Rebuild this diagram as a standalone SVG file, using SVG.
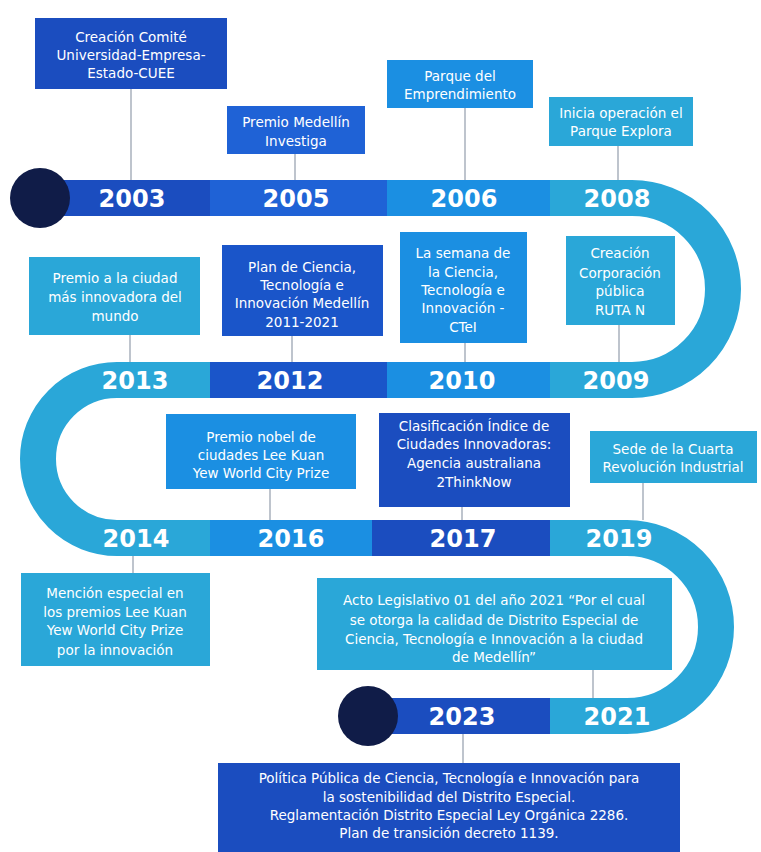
<svg xmlns="http://www.w3.org/2000/svg" width="761" height="852" viewBox="0 0 761 852">
<style>
.bx text{font-family:"DejaVu Sans","Liberation Sans",sans-serif;font-size:13.5px;fill:#ffffff;text-anchor:middle}
.yr{font-family:"DejaVu Sans","Liberation Sans",sans-serif;font-size:24px;font-weight:bold;fill:#ffffff;text-anchor:middle}
.dk{fill:#1b4dbf}
.bl{fill:#1f62d6}
.md{fill:#1b8fe2}
.cy{fill:#2aa7d8}
.cn line{stroke:#a9b1bd;stroke-width:1.5}
</style>
<rect width="761" height="852" fill="#ffffff"/>
<g id="track">
<path d="M40 198 H632 A91 91 0 0 1 632 380 H117 A79 79 0 0 0 117 538 H627 A89 89 0 0 1 627 716 H370" fill="none" stroke="#2aa7d8" stroke-width="36"/>
<rect class="dk" x="60" y="180" width="150" height="36"/>
<rect class="bl" x="210" y="180" width="177" height="36"/>
<rect class="md" x="387" y="180" width="163" height="36"/>
<rect fill="#1a55c9" x="210" y="362" width="177" height="36"/>
<rect class="md" x="387" y="362" width="163" height="36"/>
<rect class="md" x="210" y="520" width="162" height="36"/>
<rect class="dk" x="372" y="520" width="178" height="36"/>
<rect class="dk" x="380" y="698" width="170" height="36"/>
<circle cx="40" cy="198" r="30" fill="#101c48"/>
<circle cx="368" cy="716" r="30" fill="#101c48"/>
<text class="yr" x="132" y="207">2003</text>
<text class="yr" x="296" y="207">2005</text>
<text class="yr" x="464" y="207">2006</text>
<text class="yr" x="617" y="207">2008</text>
<text class="yr" x="135" y="389">2013</text>
<text class="yr" x="290" y="389">2012</text>
<text class="yr" x="462" y="389">2010</text>
<text class="yr" x="616" y="389">2009</text>
<text class="yr" x="136" y="547">2014</text>
<text class="yr" x="291" y="547">2016</text>
<text class="yr" x="463" y="547">2017</text>
<text class="yr" x="619" y="547">2019</text>
<text class="yr" x="462" y="725">2023</text>
<text class="yr" x="617" y="725">2021</text>
</g>
<g class="cn" id="connectors">
<line x1="131" y1="89" x2="131" y2="180"/>
<line x1="295" y1="154" x2="295" y2="180"/>
<line x1="465" y1="108" x2="465" y2="180"/>
<line x1="618" y1="146" x2="618" y2="180"/>
<line x1="130" y1="335" x2="130" y2="362"/>
<line x1="292" y1="336" x2="292" y2="362"/>
<line x1="465" y1="343" x2="465" y2="362"/>
<line x1="619" y1="325" x2="619" y2="362"/>
<line x1="270" y1="489" x2="270" y2="520"/>
<line x1="462" y1="507" x2="462" y2="520"/>
<line x1="643" y1="483" x2="643" y2="520"/>
<line x1="133" y1="556" x2="133" y2="573"/>
<line x1="593" y1="670" x2="593" y2="698"/>
<line x1="463" y1="734" x2="463" y2="763"/>
</g>
<g class="bx" id="n2003">
<rect class="dk" x="35" y="18" width="192" height="71"/>
<text x="131" y="42">Creación Comité</text>
<text x="131" y="60">Universidad-Empresa-</text>
<text x="131" y="78">Estado-CUEE</text>
</g>
<g class="bx" id="n2005">
<rect class="bl" x="227" y="106" width="138" height="48"/>
<text x="296" y="127">Premio Medellín</text>
<text x="296" y="146">Investiga</text>
</g>
<g class="bx" id="n2006">
<rect class="md" x="387" y="60" width="146" height="48"/>
<text x="460" y="81">Parque del</text>
<text x="460" y="99">Emprendimiento</text>
</g>
<g class="bx" id="n2008">
<rect class="cy" x="549" y="97" width="144" height="49"/>
<text x="621" y="118">Inicia operación el</text>
<text x="621" y="136">Parque Explora</text>
</g>
<g class="bx" id="n2013">
<rect class="cy" x="29" y="257" width="171" height="78"/>
<text x="115" y="283">Premio a la ciudad</text>
<text x="115" y="302">más innovadora del</text>
<text x="115" y="321">mundo</text>
</g>
<g class="bx" id="n2012">
<rect fill="#1a55c9" x="222" y="245" width="161" height="91"/>
<text x="302" y="272">Plan de Ciencia,</text>
<text x="302" y="290">Tecnología e</text>
<text x="302" y="308">Innovación Medellín</text>
<text x="302" y="327">2011-2021</text>
</g>
<g class="bx" id="n2010">
<rect class="md" x="400" y="232" width="127" height="111"/>
<text x="463" y="258">La semana de</text>
<text x="463" y="277">la Ciencia,</text>
<text x="463" y="295">Tecnología e</text>
<text x="463" y="313">Innovación -</text>
<text x="463" y="332">CTeI</text>
</g>
<g class="bx" id="n2009">
<rect class="cy" x="566" y="236" width="109" height="89"/>
<text x="620" y="258">Creación</text>
<text x="620" y="278">Corporación</text>
<text x="620" y="296">pública</text>
<text x="620" y="315">RUTA N</text>
</g>
<g class="bx" id="n2016">
<rect class="md" x="166" y="414" width="190" height="75"/>
<text x="261" y="442">Premio nobel de</text>
<text x="261" y="460">ciudades Lee Kuan</text>
<text x="261" y="478">Yew World City Prize</text>
</g>
<g class="bx" id="n2017">
<rect class="dk" x="379" y="413" width="191" height="94"/>
<text x="474" y="431">Clasificación Índice de</text>
<text x="474" y="449">Ciudades Innovadoras:</text>
<text x="474" y="468">Agencia australiana</text>
<text x="474" y="487">2ThinkNow</text>
</g>
<g class="bx" id="n2019">
<rect class="cy" x="590" y="431" width="167" height="52"/>
<text x="673" y="454">Sede de la Cuarta</text>
<text x="673" y="472">Revolución Industrial</text>
</g>
<g class="bx" id="n2014">
<rect class="cy" x="21" y="573" width="189" height="93"/>
<text x="115" y="598">Mención especial en</text>
<text x="115" y="617">los premios Lee Kuan</text>
<text x="115" y="635">Yew World City Prize</text>
<text x="115" y="655">por la innovación</text>
</g>
<g class="bx" id="n2021">
<rect class="cy" x="317" y="578" width="355" height="92"/>
<text x="494" y="605">Acto Legislativo 01 del año 2021 “Por el cual</text>
<text x="494" y="625">se otorga la calidad de Distrito Especial de</text>
<text x="494" y="644">Ciencia, Tecnología e Innovación a la ciudad</text>
<text x="494" y="662">de Medellín”</text>
</g>
<g class="bx" id="n2023">
<rect class="dk" x="218" y="763" width="462" height="89"/>
<text x="449" y="783">Política Pública de Ciencia, Tecnología e Innovación para</text>
<text x="449" y="802">la sostenibilidad del Distrito Especial.</text>
<text x="449" y="820">Reglamentación Distrito Especial Ley Orgánica 2286.</text>
<text x="449" y="838">Plan de transición decreto 1139.</text>
</g>
</svg>
